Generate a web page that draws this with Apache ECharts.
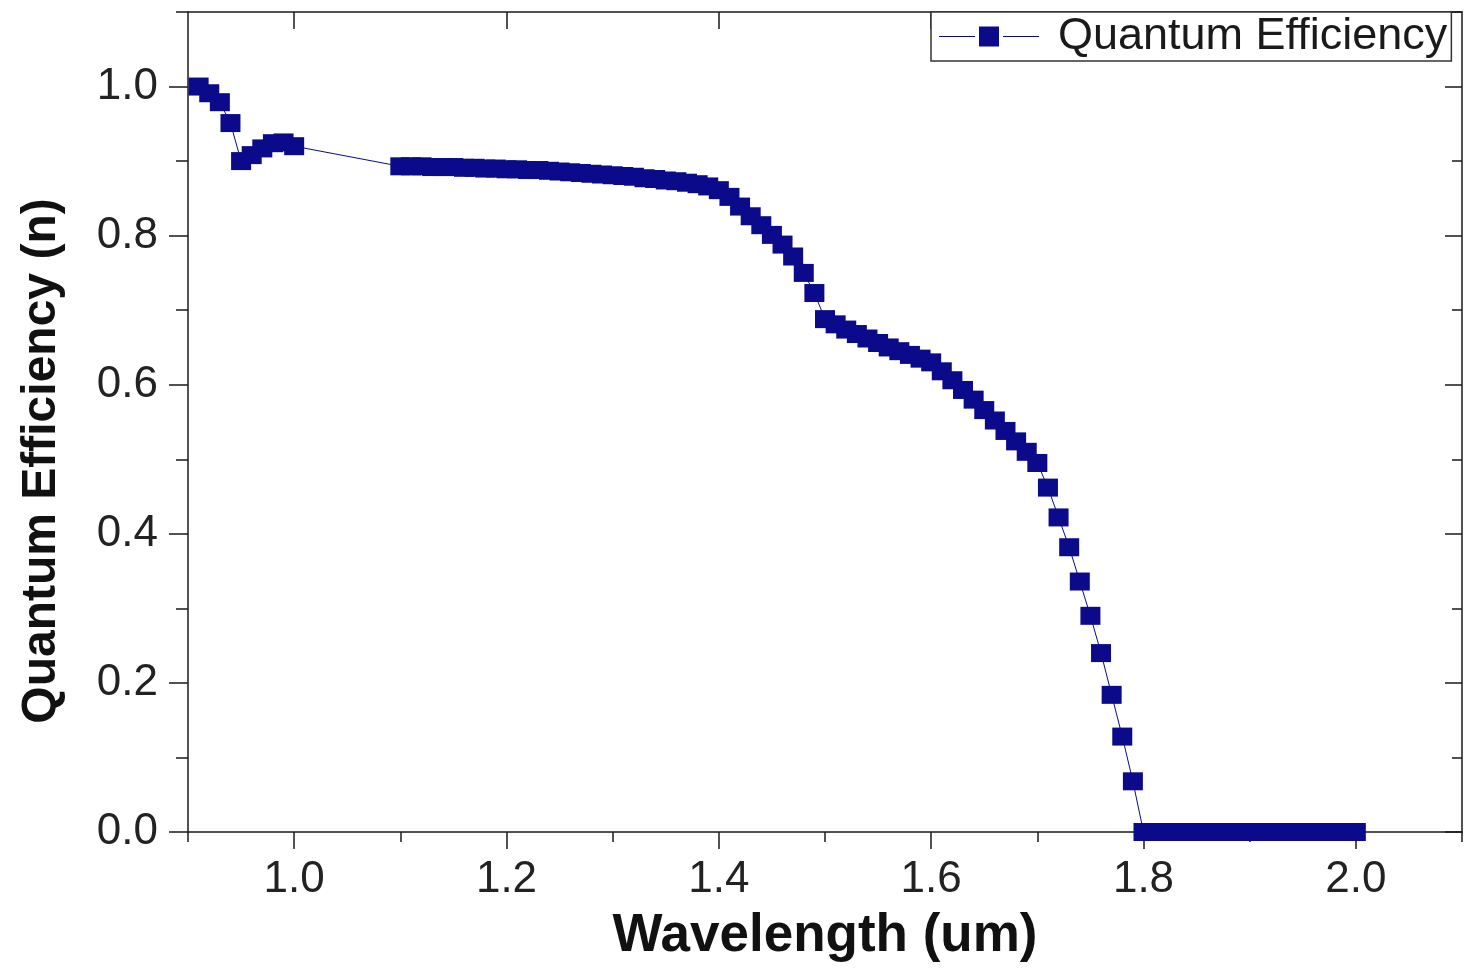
<!DOCTYPE html>
<html>
<head>
<meta charset="utf-8">
<script src="https://cdn.jsdelivr.net/npm/echarts@6/dist/echarts.min.js"></script>
<style>html,body{margin:0;padding:0;background:#fff;}#chart{width:1468px;height:968px;}</style>
</head>
<body>
<div id="chart"></div>
<script>
const wavelength = [
  0.91,0.92,0.93,0.94,0.95,0.96,0.97,0.98,0.99,1.00,
  1.10,1.11,1.12,1.13,1.14,1.15,1.16,1.17,1.18,1.19,
  1.20,1.21,1.22,1.23,1.24,1.25,1.26,1.27,1.28,1.29,
  1.30,1.31,1.32,1.33,1.34,1.35,1.36,1.37,1.38,1.39,
  1.40,1.41,1.42,1.43,1.44,1.45,1.46,1.47,1.48,1.49,
  1.50,1.51,1.52,1.53,1.54,1.55,1.56,1.57,1.58,1.59,
  1.60,1.61,1.62,1.63,1.64,1.65,1.66,1.67,1.68,1.69,
  1.70,1.71,1.72,1.73,1.74,1.75,1.76,1.77,1.78,1.79,
  1.80,1.81,1.82,1.83,1.84,1.85,1.86,1.87,1.88,1.89,
  1.90,1.91,1.92,1.93,1.94,1.95,1.96,1.97,1.98,1.99,2.00
];
const quantumEfficiency = [
  1.000,0.991,0.979,0.951,0.900,0.908,0.917,0.924,0.925,0.920,
  0.893,0.893,0.893,0.892,0.892,0.892,0.891,0.891,0.890,0.890,
  0.889,0.889,0.888,0.888,0.887,0.886,0.885,0.884,0.883,0.882,
  0.881,0.880,0.879,0.877,0.876,0.874,0.873,0.871,0.869,0.866,
  0.861,0.852,0.839,0.826,0.814,0.801,0.788,0.772,0.750,0.723,
  0.688,0.681,0.674,0.668,0.662,0.656,0.650,0.645,0.640,0.635,
  0.630,0.618,0.606,0.593,0.580,0.566,0.552,0.538,0.524,0.510,
  0.495,0.462,0.422,0.382,0.336,0.290,0.240,0.184,0.128,0.068,
  0,0,0,0,0,0,0,0,0,0,
  0,0,0,0,0,0,0,0,0,0,0
];
const xMajorTicks = [1.0,1.2,1.4,1.6,1.8,2.0];
const xMinorTicks = [0.9,1.1,1.3,1.5,1.7,1.9,2.1];
const yMajorTicks = [0.0,0.2,0.4,0.6,0.8,1.0];
const yMinorTicks = [0.1,0.3,0.5,0.7,0.9,1.1];
const seriesName = 'Quantum Efficiency';
const xTitle = 'Wavelength (um)';
const yTitle = 'Quantum Efficiency (n)';

const points = wavelength.map((w, i) => [w, quantumEfficiency[i]]);
const frameColor = '#1a1a1a';
const markColor = '#0a0a8a';
const labelFont = {fontFamily: 'Liberation Sans, Arial, sans-serif', fontSize: 44, color: '#222'};
const fmt = v => Number(v).toFixed(1);

function xAx(pos, opts) {
  return Object.assign({
    type: 'value', position: pos, min: 0.9, max: 2.1,
    axisLine: {show: true, onZero: false, lineStyle: {color: frameColor, width: 1.5}},
    splitLine: {show: false},
    axisLabel: {show: false},
    axisTick: {show: false}
  }, opts);
}
function yAx(pos, opts) {
  return Object.assign({
    type: 'value', position: pos, min: 0, max: 1.1,
    axisLine: {show: true, onZero: false, lineStyle: {color: frameColor, width: 1.5}},
    splitLine: {show: false},
    axisLabel: {show: false},
    axisTick: {show: false}
  }, opts);
}

// legend icon: short line, gap, square, gap, short line
const legendIcon = 'path://M0,9.5L36,9.5L36,10.5L0,10.5Z M40,0L60,0L60,20L40,20Z M64,9.5L100,9.5L100,10.5L64,10.5Z';

const chart = echarts.init(document.getElementById('chart'), null, {renderer: 'canvas'});
chart.setOption({
  animation: false,
  backgroundColor: '#fff',
  grid: {left: 188, right: 6, top: 12, bottom: 133, containLabel: false},
  legend: {
    left: 931, top: 12,
    data: [{name: seriesName, icon: legendIcon, itemStyle: {color: markColor}}],
    itemWidth: 100, itemHeight: 20,
    padding: [2, 4, 2, 8],
    borderColor: '#333', borderWidth: 1.5,
    backgroundColor: '#fff',
    textStyle: {fontFamily: 'Liberation Sans, Arial, sans-serif', fontSize: 45, color: '#1a1a1a', padding: [0, 0, 0, 14]}
  },
  xAxis: [
    xAx('bottom', {
      name: xTitle, nameLocation: 'middle', nameGap: 78,
      nameTextStyle: {fontFamily: 'Liberation Sans, Arial, sans-serif', fontWeight: 'bold', fontSize: 53, color: '#111'},
      axisTick: {show: true, inside: false, length: 17, customValues: xMajorTicks, lineStyle: {color: frameColor, width: 1.5}},
      axisLabel: {show: true, margin: 26, customValues: xMajorTicks, formatter: fmt, ...labelFont}
    }),
    xAx('bottom', {
      axisLine: {show: false},
      axisTick: {show: true, inside: false, length: 10, customValues: xMinorTicks, lineStyle: {color: frameColor, width: 1.5}}
    }),
    xAx('top', {
      axisTick: {show: true, inside: true, length: 17, customValues: xMajorTicks, lineStyle: {color: frameColor, width: 1.5}}
    }),
    xAx('top', {
      axisLine: {show: false},
      axisTick: {show: true, inside: true, length: 10, customValues: xMinorTicks, lineStyle: {color: frameColor, width: 1.5}}
    })
  ],
  yAxis: [
    yAx('left', {
      name: yTitle, nameLocation: 'middle', nameGap: 122, nameRotate: 90,
      nameTextStyle: {fontFamily: 'Liberation Sans, Arial, sans-serif', fontWeight: 'bold', fontSize: 48, color: '#111', padding: [0, 78, 0, 0]},
      axisTick: {show: true, inside: false, length: 19, customValues: yMajorTicks, lineStyle: {color: frameColor, width: 1.5}},
      axisLabel: {show: true, margin: 30, customValues: yMajorTicks, formatter: fmt, ...labelFont}
    }),
    yAx('left', {
      axisLine: {show: false},
      axisTick: {show: true, inside: false, length: 12, customValues: yMinorTicks, lineStyle: {color: frameColor, width: 1.5}}
    }),
    yAx('right', {
      axisTick: {show: true, inside: true, length: 17, customValues: yMajorTicks, lineStyle: {color: frameColor, width: 1.5}}
    }),
    yAx('right', {
      axisLine: {show: false},
      axisTick: {show: true, inside: true, length: 10, customValues: yMinorTicks, lineStyle: {color: frameColor, width: 1.5}}
    })
  ],
  series: [{
    name: seriesName,
    type: 'line',
    xAxisIndex: 0, yAxisIndex: 0,
    data: points,
    clip: false,
    symbol: 'rect',
    symbolSize: [20, 18],
    showAllSymbol: true,
    itemStyle: {color: markColor},
    lineStyle: {color: markColor, width: 1}
  }]
});
</script>
</body>
</html>
